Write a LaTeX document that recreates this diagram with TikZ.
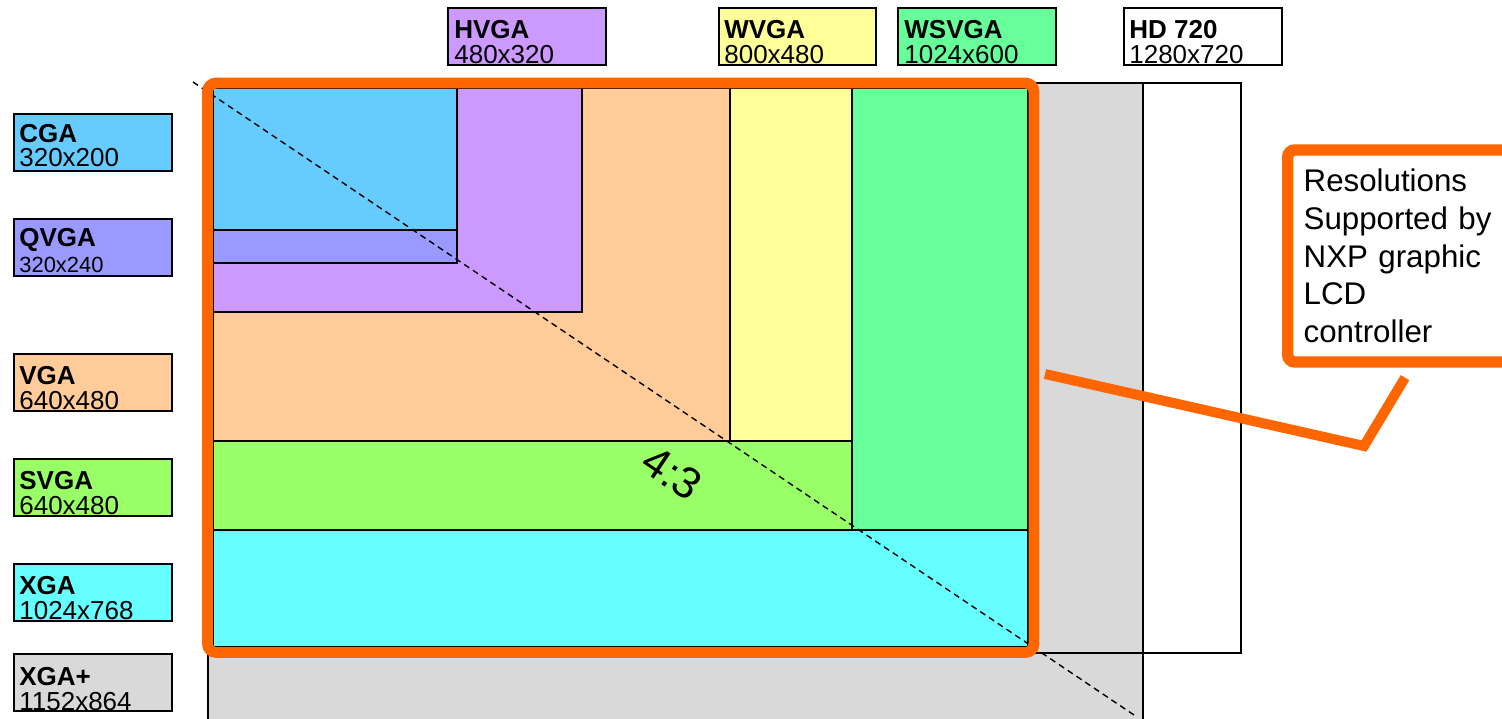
\documentclass[tikz,border=0pt]{standalone}
\usepackage{fontspec}
\setmainfont{Liberation Sans}
\usepackage{xcolor}
\usetikzlibrary{calc}
\definecolor{cgaC}{HTML}{66CCFF}
\definecolor{qvgaC}{HTML}{9999FF}
\definecolor{hvgaC}{HTML}{CC99FF}
\definecolor{vgaC}{HTML}{FFCC99}
\definecolor{wvgaC}{HTML}{FFFF99}
\definecolor{svgaC}{HTML}{99FF66}
\definecolor{wsvgaC}{HTML}{66FF99}
\definecolor{xgaC}{HTML}{66FFFF}
\definecolor{xgapC}{HTML}{D9D9D9}
\definecolor{nxporange}{HTML}{FF6600}
\tikzset{
  screen/.style={draw=black,line width=1pt},
  legend/.style={draw=black,line width=1pt,anchor=north west,minimum width=3.16cm,minimum height=1.14cm,inner sep=0pt},
  lname/.style={anchor=base west,inner sep=0pt,font=\fontsize{14.8pt}{17pt}\selectfont\bfseries},
  lsize/.style={anchor=base west,inner sep=0pt,font=\fontsize{14.8pt}{17pt}\selectfont},
  frame/.style={draw=nxporange,line width=6.2pt,rounded corners=5pt},
  diag/.style={draw=black,line width=0.8pt,dash pattern=on 3.5pt off 2.5pt},
  note/.style={draw=nxporange,line width=6.5pt,rounded corners=4pt,fill=white,align=left,text width=3.9cm,inner xsep=0.32cm,minimum height=4.24cm,anchor=west,font=\fontsize{17.8pt}{21.5pt}\selectfont},
  pointer/.style={draw=nxporange,line width=5.7pt}
}
\begin{document}
\begin{tikzpicture}[x=0.02cm,y=-0.02cm]
  \clip (0,0) rectangle (1502,719);

  % nested screen sizes, biggest first
  \draw[screen,fill=xgapC] (208,83) rectangle (1143,800);
  \draw[screen] (208,83) rectangle (1241,653);
  \draw[screen,fill=xgaC] (213,88) rectangle (1028,647);
  \draw[screen,fill=wsvgaC] (213,88) rectangle (1028,530);
  \draw[screen,fill=svgaC] (213,88) rectangle (852,530);
  \draw[screen,fill=wvgaC] (213,88) rectangle (852,441);
  \draw[screen,fill=vgaC] (213,88) rectangle (730,441);
  \draw[screen,fill=hvgaC] (213,88) rectangle (582,312);
  \draw[screen,fill=qvgaC] (213,88) rectangle (457,263);
  \draw[screen,fill=cgaC] (213,88) rectangle (457,230);

  % 4:3 diagonal
  \coordinate (d1) at (193,82);
  \coordinate (d2) at (1137,717);
  \draw[diag] (d1) -- (d2);
  \node (ratio) [rotate=-34,inner sep=0pt,font=\fontsize{25pt}{25pt}\selectfont] at (672,473) {4:3};

  \draw[frame] (207.5,83) rectangle (1034,652.5);

  % legend, left column
  \node (cga) [legend,fill=cgaC] at (13,113) {};
  \node (cga-n) [lname] at ($(cga.north west)+(6,30)$) {CGA};
  \node (cga-s) [lsize] at ($(cga.north west)+(6,54)$) {320x200};
  \node (qvga) [legend,fill=qvgaC] at (13,218) {};
  \node (qvga-n) [lname] at ($(qvga.north west)+(6,29)$) {QVGA};
  \node (qvga-s) [lsize,font=\fontsize{12.5pt}{14pt}\selectfont] at ($(qvga.north west)+(6,55)$) {320x240};
  \node (vga) [legend,fill=vgaC] at (13,353) {};
  \node (vga-n) [lname] at ($(vga.north west)+(6,32)$) {VGA};
  \node (vga-s) [lsize] at ($(vga.north west)+(6,57)$) {640x480};
  \node (svga) [legend,fill=svgaC] at (13,458) {};
  \node (svga-n) [lname] at ($(svga.north west)+(6,32)$) {SVGA};
  \node (svga-s) [lsize] at ($(svga.north west)+(6,57)$) {640x480};
  \node (xga) [legend,fill=xgaC] at (13,563) {};
  \node (xga-n) [lname] at ($(xga.north west)+(6,32)$) {XGA};
  \node (xga-s) [lsize] at ($(xga.north west)+(6,57)$) {1024x768};
  \node (xgap) [legend,fill=xgapC] at (13,653) {};
  \node (xgap-n) [lname] at ($(xgap.north west)+(6,32)$) {XGA+};
  \node (xgap-s) [lsize] at ($(xgap.north west)+(6,57)$) {1152x864};

  % legend, top row
  \node (hvga) [legend,fill=hvgaC] at (447,7) {};
  \node (hvga-n) [lname] at ($(hvga.north west)+(7,32)$) {HVGA};
  \node (hvga-s) [lsize] at ($(hvga.north west)+(7,57)$) {480x320};
  \node (wvga) [legend,fill=wvgaC,minimum width=3.14cm] at (718,7) {};
  \node (wvga-n) [lname] at ($(wvga.north west)+(6,32)$) {WVGA};
  \node (wvga-s) [lsize] at ($(wvga.north west)+(6,57)$) {800x480};
  \node (wsvga) [legend,fill=wsvgaC] at (897,7) {};
  \node (wsvga-n) [lname] at ($(wsvga.north west)+(7,32)$) {WSVGA};
  \node (wsvga-s) [lsize] at ($(wsvga.north west)+(7,57)$) {1024x600};
  \node (hd) [legend,fill=white] at (1123,7) {};
  \node (hd-n) [lname] at ($(hd.north west)+(6,32)$) {HD 720};
  \node (hd-s) [lsize] at ($(hd.north west)+(6,57)$) {1280x720};

  % callout
  \node (note) [note] at (1282,256) {Resolutions\\Supported by\\NXP graphic\\LCD\\controller};
  \coordinate (tip) at (1045,374);
  \draw[pointer] (tip) -- (1364,446) -- ($(note.south west)+(123,10)$);
\end{tikzpicture}
\end{document}
